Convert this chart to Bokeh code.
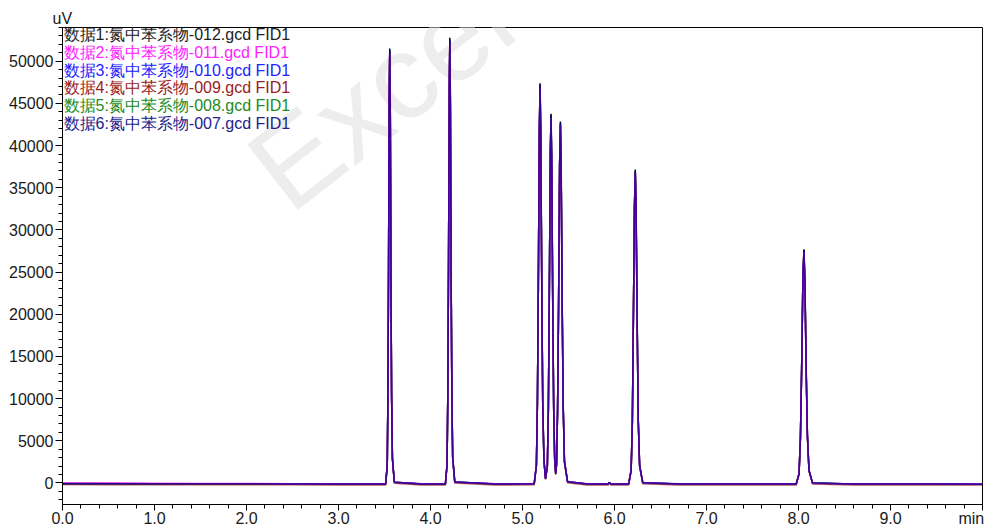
from bokeh.plotting import figure
from bokeh.models import Range1d, FixedTicker, Label, BasicTickFormatter
from bokeh.embed import file_html
from bokeh.resources import INLINE

# ---------------- data ----------------
rt_min = [0.0, 0.5, 1.0, 1.5, 2.0, 2.5, 3.0, 3.45,
          3.513, 3.530, 3.537, 3.544, 3.551, 3.557, 3.563, 3.570, 3.577, 3.586, 3.607,
          3.9,
          4.162, 4.180, 4.188, 4.196, 4.204, 4.210, 4.216, 4.224, 4.232, 4.241, 4.264,
          4.7,
          5.127, 5.151, 5.162, 5.172, 5.183, 5.191, 5.199, 5.210, 5.220, 5.233, 5.250,
          5.270, 5.281, 5.291, 5.302, 5.310, 5.318, 5.329, 5.339, 5.350, 5.361,
          5.370, 5.381, 5.392, 5.4035, 5.412, 5.4205, 5.432, 5.443, 5.456, 5.49,
          5.7, 5.93, 5.945, 5.96,
          6.154, 6.181, 6.194, 6.204, 6.217, 6.226, 6.235, 6.248, 6.258, 6.273, 6.307,
          6.7, 7.3, 7.9,
          7.975, 8.006, 8.021, 8.034, 8.048, 8.059, 8.070, 8.084, 8.097, 8.114, 8.153,
          8.6, 9.0, 9.5, 10.0]

uv_012 = [-60, -80, -90, -100, -110, -110, -120, -120,
          -120, 2150, 10100, 25000, 45300, 51500, 45300, 25000, 10700, 3000, 90,
          -120,
          -120, 2200, 10300, 25600, 46500, 52770, 46500, 25600, 11000, 3100, 100,
          -120,
          -110, 2090, 9390, 23000, 41700, 47400, 41700, 23100, 9600, 2800, 520,
          2000, 8670, 21400, 38600, 43770, 38600, 21400, 9000, 2900, 1110,
          2200, 8500, 20900, 37800, 42850, 37800, 20900, 9000, 2600, 150,
          -120, -120, 60, -120,
          -120, 1520, 7250, 18000, 32700, 37170, 32700, 18000, 7700, 2100, 30,
          -130, -130, -130,
          -130, 1090, 5350, 13400, 24300, 27690, 24300, 13400, 5700, 1540, -20,
          -130, -140, -140, -150]

uv_011 = [0, -20, -40, -60, -80, -90, -100, -110,
          -110, 2160, 10150, 25100, 45500, 50900, 43300, 23900, 10200, 2870, 80,
          -110,
          -110, 2210, 10350, 25700, 46700, 52140, 44400, 24450, 10500, 2960, 90,
          -110,
          -100, 2100, 9440, 23100, 41900, 46830, 39820, 22060, 9170, 2670, 500,
          2010, 8710, 21500, 38790, 43240, 36860, 20440, 8600, 2770, 1080,
          2210, 8540, 21000, 37990, 42340, 36100, 19960, 8600, 2480, 140,
          -110, -110, 40, -110,
          -110, 1530, 7290, 18090, 32860, 36720, 31230, 17190, 7350, 2000, 20,
          -120, -120, -120,
          -120, 1100, 5380, 13470, 24420, 27360, 23210, 12800, 5440, 1470, -30,
          -120, -130, -130, -140]

uv_010 = [-80, -90, -100, -100, -100, -110, -110, -110,
          -110, 2150, 10100, 25000, 45300, 51200, 43700, 24100, 10300, 2900, 90,
          -110,
          -110, 2200, 10300, 25600, 46500, 52450, 44870, 24700, 10600, 2990, 100,
          -110,
          -100, 2090, 9390, 23000, 41700, 47120, 40240, 22290, 9260, 2700, 510,
          2000, 8670, 21400, 38600, 43510, 37250, 20650, 8690, 2800, 1090,
          2200, 8500, 20900, 37800, 42590, 36480, 20170, 8690, 2510, 140,
          -110, -110, 50, -110,
          -110, 1520, 7250, 18000, 32700, 36950, 31560, 17370, 7430, 2030, 30,
          -110, -120, -120,
          -120, 1090, 5350, 13400, 24300, 27520, 23450, 12930, 5500, 1490, -20,
          -120, -120, -130, -130]

uv_009 = [-200, -210, -220, -220, -230, -230, -240, -240,
          -240, 2020, 9950, 24850, 45050, 51000, 43500, 24000, 10270, 2880, -30,
          -240,
          -240, 2070, 10150, 25450, 46250, 52240, 44640, 24580, 10560, 2980, -20,
          -240,
          -230, 1960, 9220, 22880, 41490, 46930, 40030, 22180, 9220, 2570, 400,
          1870, 8510, 21290, 38410, 43330, 37060, 20540, 8640, 2660, 980,
          2070, 8340, 20800, 37610, 42420, 36290, 20060, 8640, 2380, 30,
          -240, -240, -80, -240,
          -240, 1390, 7130, 17910, 32540, 36800, 31390, 17280, 7390, 2000, -90,
          -240, -250, -250,
          -250, 960, 5200, 13280, 24150, 27410, 23330, 12860, 5470, 1360, -140,
          -250, -250, -260, -260]

uv_008 = [-100, -110, -110, -120, -120, -130, -130, -130,
          -130, 2140, 10090, 25000, 45300, 51000, 43500, 24000, 10270, 2880, 80,
          -130,
          -130, 2190, 10290, 25600, 46500, 52240, 44640, 24580, 10560, 2980, 90,
          -130,
          -120, 2090, 9390, 23000, 41700, 46930, 40030, 22180, 9220, 2690, 490,
          2000, 8670, 21400, 38600, 43330, 37060, 20540, 8640, 2780, 1070,
          2200, 8500, 20900, 37800, 42420, 36290, 20060, 8640, 2500, 120,
          -130, -130, 30, -130,
          -130, 1510, 7240, 18000, 32700, 36800, 31390, 17280, 7390, 2010, 20,
          -140, -140, -140,
          -140, 1080, 5340, 13400, 24300, 27410, 23330, 12860, 5470, 1480, -30,
          -140, -150, -150, -160]

uv_007 = [-90, -100, -100, -110, -110, -120, -120, -120,
          -120, 2150, 10100, 25000, 45300, 51300, 43900, 24250, 10380, 2910, 90,
          -120,
          -120, 2200, 10300, 25600, 46500, 52560, 45100, 24830, 10670, 3010, 100,
          -120,
          -110, 2090, 9390, 23000, 41700, 47210, 40450, 22410, 9310, 2720, 500,
          2000, 8670, 21400, 38600, 43600, 37440, 20760, 8730, 2810, 1100,
          2200, 8500, 20900, 37800, 42680, 36670, 20270, 8730, 2520, 130,
          -120, -120, 40, -120,
          -120, 1520, 7250, 18000, 32700, 37020, 31720, 17460, 7470, 2040, 30,
          -130, -130, -130,
          -130, 1090, 5350, 13400, 24300, 27580, 23570, 13000, 5530, 1490, -20,
          -130, -140, -140, -150]

series_names = ["数据1:氮中苯系物-012.gcd FID1",
                "数据2:氮中苯系物-011.gcd FID1",
                "数据3:氮中苯系物-010.gcd FID1",
                "数据4:氮中苯系物-009.gcd FID1",
                "数据5:氮中苯系物-008.gcd FID1",
                "数据6:氮中苯系物-007.gcd FID1"]
series_values = [uv_012, uv_011, uv_010, uv_009, uv_008, uv_007]
line_colors = ["#000000", "#ff00ff", "#0000ff", "#8b1a1a", "#1f8f1f", "#000080"]
text_colors = ["#222222", "#ff22ff", "#2222ff", "#992222", "#228b22", "#22228b"]

x_ticks = [0, 1, 2, 3, 4, 5, 6, 7, 8, 9, 10]
x_tick_labels = ["0.0", "1.0", "2.0", "3.0", "4.0", "5.0", "6.0", "7.0", "8.0", "9.0", ""]
y_ticks = [0, 5000, 10000, 15000, 20000, 25000, 30000, 35000, 40000, 45000, 50000]

# ---------------- figure ----------------
FONT = "Liberation Sans"
W, H = 985, 532
ML, MR, MT, MB = 62, 3, 27, 28
FW, FH = W - ML - MR, H - MT - MB

p = figure(width=W, height=H,
           x_range=Range1d(0, 10), y_range=Range1d(-2560, 54000),
           output_backend="svg", toolbar_location=None,
           min_border_left=ML, min_border_right=MR,
           min_border_top=MT, min_border_bottom=MB)
p.xgrid.visible = False
p.ygrid.visible = False
p.outline_line_color = "#000000"
p.outline_line_width = 1
p.background_fill_color = "white"
p.border_fill_color = "white"

# y unit shown as a left-aligned title above the axis
p.title.text = "uV"
p.title.align = "left"
p.title.offset = -10
p.title.standoff = 2
p.title.text_font = FONT
p.title.text_font_size = "16px"
p.title.text_font_style = "normal"
p.title.text_color = "#1a1a1a"

# watermark (faint, behind the traces)
p.add_layout(Label(x=243, y=269, x_units="screen", y_units="screen",
                   text="Excel", angle=0.66, text_font=FONT,
                   text_font_size="120px", text_color="#ededed",
                   level="underlay"))

# draw order chosen so the overlapping traces blend like the original
order = [0, 4, 2, 3, 1, 5]
for i in order:
    p.line(rt_min, series_values[i], line_color=line_colors[i],
           line_width=1.5, line_alpha=1.0 if i == 0 else 0.7)

# axes
xa = p.xaxis[0]
ya = p.yaxis[0]
xa.ticker = FixedTicker(ticks=x_ticks, minor_ticks=[k * 0.2 for k in range(0, 51)])
ya.ticker = FixedTicker(ticks=y_ticks, minor_ticks=[k * 1000 for k in range(-2, 55)])
ya.formatter = BasicTickFormatter(use_scientific=False)

for ax in (xa, ya):
    ax.axis_line_color = "#000000"
    ax.major_tick_line_color = "#000000"
    ax.minor_tick_line_color = "#000000"
    ax.major_tick_in = 0
    ax.minor_tick_in = 0
    ax.minor_tick_out = 4
    ax.major_label_text_font = FONT
    ax.major_label_text_font_size = "16px"
    ax.major_label_text_color = "#1a1a1a"
xa.major_tick_out = 6
xa.major_label_standoff = 1
ya.major_tick_out = 7
ya.major_label_standoff = 2

# x unit "min" at the right end of the time axis, on the tick-label row
# (the label is centred on the axis end; trailing no-break spaces pull it inside)
xa.axis_label = "min" + "\u00a0" * 5
xa.axis_label_align = "end"
xa.axis_label_standoff = -17
xa.axis_label_text_font = FONT
xa.axis_label_text_font_size = "16px"
xa.axis_label_text_font_style = "normal"
xa.axis_label_text_color = "#1a1a1a"
xa.major_label_overrides = {t: lab for t, lab in zip(x_ticks, x_tick_labels)}

# legend as coloured text lines
for k, (name, col) in enumerate(zip(series_names, text_colors)):
    p.add_layout(Label(x=1, y=FH - 7 - k * 17.8, x_units="screen", y_units="screen",
                       text=name, text_align="left", text_baseline="middle",
                       text_font=FONT, text_font_size="16px", text_color=col))

open("out.html", "w").write(file_html(p, INLINE))
